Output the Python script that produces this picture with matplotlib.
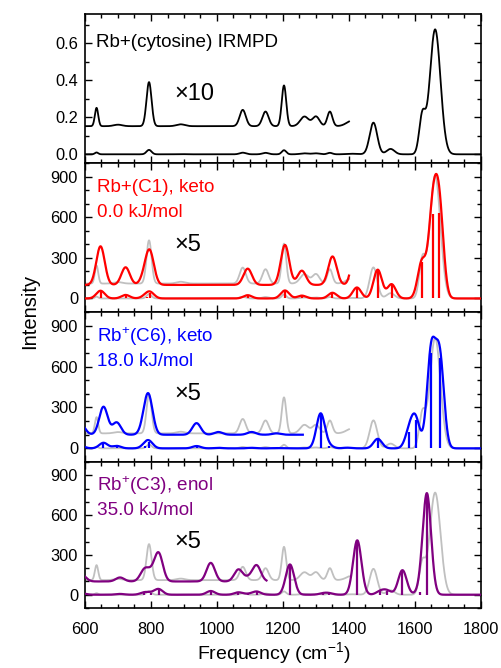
import numpy as np
import matplotlib.pyplot as plt
from matplotlib.ticker import MultipleLocator

plt.rcParams["font.family"] = ["Liberation Sans", "DejaVu Sans"]
plt.rcParams["mathtext.fontset"] = "custom"
plt.rcParams["mathtext.rm"] = "Liberation Sans"
plt.rcParams["mathtext.it"] = "Liberation Sans:italic"

# experimental IRMPD bands: centre (cm-1), yield, fwhm (cm-1)
EXP_FREQ = [635, 700, 794, 890, 1078, 1147, 1203, 1265, 1300, 1342, 1410, 1474, 1526, 1622, 1661]
EXP_YIELD = [0.0099, 0.0008, 0.0238, 0.0010, 0.0088, 0.0079, 0.0220, 0.0052, 0.0052, 0.0079,
             0.0030, 0.171, 0.029, 0.20, 0.675]
EXP_FWHM = [12, 30, 18, 30, 22, 22, 16, 30, 25, 18, 40, 27, 28, 22, 38]

# computed stick spectra: frequency (cm-1), intensity (km/mol)
C1_FREQ = [647, 723, 778, 788, 797, 1093, 1206, 1257, 1350, 1424, 1487, 1529, 1621, 1654, 1674]
C1_INT = [57, 26, 6, 10, 42, 24, 59, 21, 42, 81, 212, 105, 270, 620, 630]

C6_FREQ = [588, 656, 696, 782, 793, 938, 1004, 1105, 1180, 1314, 1340, 1395, 1487, 1583, 1602,
           1649, 1675]
C6_INT = [15, 41, 18, 15, 50, 17, 4, 4, 2, 255, 17, 5, 70, 121, 205, 700, 660]

C3_FREQ = [590, 706, 780, 800, 823, 981, 1065, 1095, 1120, 1221, 1322, 1340, 1425, 1495, 1515,
           1562, 1615, 1636]
C3_INT = [10, 6, 17, 10, 42, 28, 18, 5, 24, 228, 10, 10, 410, 25, 30, 185, 22, 760]

BROADENING = 30  # fwhm of the gaussian used for the computed spectra

PANELS = [
    ("Rb+(C1), keto", "0.0 kJ/mol", "#ff0000", C1_FREQ, C1_INT, 1340, 1400),
    ("Rb$^{+}$(C6), keto", "18.0 kJ/mol", "#0000ff", C6_FREQ, C6_INT, 1200, 1260),
    ("Rb$^{+}$(C3), enol", "35.0 kJ/mol", "#800080", C3_FREQ, C3_INT, 1140, 1150),
]


def bands(x, freq, height, fwhm):
    y = np.zeros_like(x)
    for f, h, w in zip(freq, height, fwhm):
        y += h * np.exp(-4 * np.log(2) * ((x - f) / w) ** 2)
    return y


def style_axis(ax):
    ax.set_xlim(600, 1800)
    ax.xaxis.set_major_locator(MultipleLocator(200))
    ax.xaxis.set_minor_locator(MultipleLocator(50))
    ax.tick_params(which="both", direction="in", top=True, right=True, width=1.0,
                   labelsize=11.8)
    ax.tick_params(which="major", length=5)
    ax.tick_params(which="minor", length=3)
    ax.tick_params(axis="y", pad=5)
    ax.tick_params(axis="x", pad=10)
    for s in ax.spines.values():
        s.set_linewidth(1.2)


x = np.linspace(600, 1800, 2401)
exp_y = bands(x, EXP_FREQ, EXP_YIELD, EXP_FWHM)
low = x <= 1400

fig = plt.figure(figsize=(5.02, 6.68), dpi=100)
edges = [14, 163, 312, 462, 608]
H = 668
axes = []
for i in range(4):
    top, bot = edges[i], edges[i + 1]
    ax = fig.add_axes([85 / 502, 1 - bot / H, 396 / 502, (bot - top) / H])
    style_axis(ax)
    axes.append(ax)

# top panel: experiment
ax = axes[0]
ax.plot(x, exp_y, color="black", lw=1.3)
ax.plot(x[low], 0.152 + 10 * exp_y[low], color="black", lw=1.3)
ax.set_ylim(-0.047, 0.758)
ax.yaxis.set_major_locator(MultipleLocator(0.2))
ax.yaxis.set_minor_locator(MultipleLocator(0.1))
ax.yaxis.set_major_formatter(lambda v, p: f"{v:.1f}")
ax.tick_params(labelbottom=False)
ax.text(0.028, 0.81, "Rb+(cytosine) IRMPD", transform=ax.transAxes, fontsize=13.6,
        va="center", ha="left")
ax.text(0.225, 0.463, "\u00d710", transform=ax.transAxes, fontsize=17,
        va="center", ha="left")

for ax, (name, energy, color, freq, inten, scale, stop) in zip(axes[1:], PANELS):
    comp = bands(x, freq, inten, [BROADENING] * len(freq))
    upper = x <= stop
    ax.plot(x, exp_y * scale, color="#c0c0c0", lw=1.3, zorder=1)
    ax.plot(x[low], 110 + 10 * exp_y[low] * scale, color="#c0c0c0", lw=1.3, zorder=1)
    ax.plot(x, comp, color=color, lw=1.6, zorder=3)
    ax.plot(x[upper], 100 + 5 * comp[upper], color=color, lw=1.6, zorder=3)
    ax.vlines(freq, 0, inten, color=color, lw=1.6, zorder=2)
    ax.set_ylim(-100, 1000)
    ax.yaxis.set_major_locator(MultipleLocator(300))
    ax.yaxis.set_minor_locator(MultipleLocator(100))
    ax.text(0.03, 0.835, name, transform=ax.transAxes, fontsize=13.6, color=color,
            va="center", ha="left")
    ax.text(0.03, 0.67, energy, transform=ax.transAxes, fontsize=13.6, color=color,
            va="center", ha="left")
    ax.text(0.225, 0.45, "\u00d75", transform=ax.transAxes, fontsize=17,
            va="center", ha="left")
    if ax is not axes[-1]:
        ax.tick_params(labelbottom=False)

fig.text(0.06, 1 - 311 / H, "Intensity", rotation=90, fontsize=14.5,
         ha="center", va="center")
fig.text(0.545, 1 - 653 / H, "Frequency (cm$^{-1}$)", fontsize=14,
         ha="center", va="center")

fig.savefig("out.png", dpi=100)
